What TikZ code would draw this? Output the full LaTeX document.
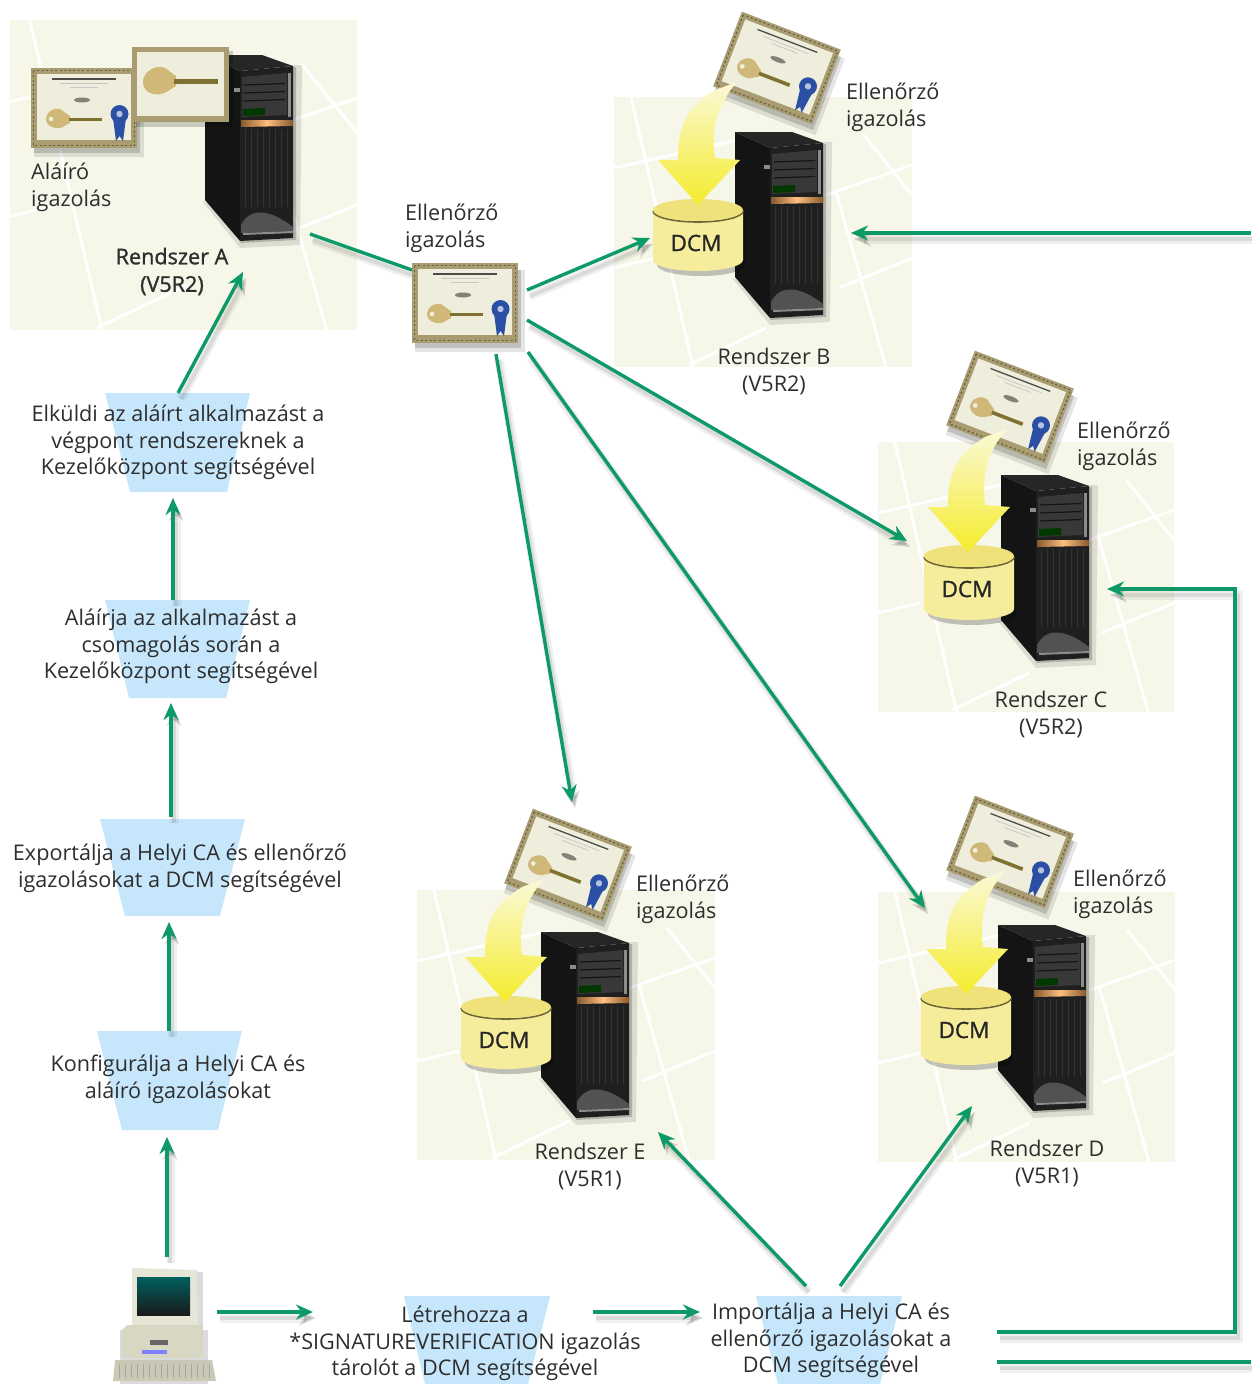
\documentclass[tikz,border=0pt]{standalone}
\usepackage{fontspec}
\setmainfont{Open Sans}
\newfontfamily\heavyface[FakeBold=1.2]{Open Sans}
\usetikzlibrary{arrows.meta,calc}
\definecolor{grn}{HTML}{0E9A68}
\definecolor{cream}{HTML}{F6F7E8}
\definecolor{trap}{HTML}{C6E7FB}
\definecolor{txt}{HTML}{2E2E2E}
\definecolor{cframe}{HTML}{A89C70}
\definecolor{cpaper}{HTML}{EFEDDC}
\definecolor{khead}{HTML}{CFB878}
\definecolor{kshaft}{HTML}{7F7230}
\definecolor{ribbon}{HTML}{2B4FA5}
\definecolor{cyl}{HTML}{F5EC9C}
\definecolor{cyltop}{HTML}{EFE27A}
\definecolor{pcbeige}{HTML}{E6E5D6}
\definecolor{pcbase}{HTML}{D8D7C4}
\definecolor{pckeys}{HTML}{C9C9B6}
\definecolor{yhead}{HTML}{F4EC2C}
\definecolor{ytail}{HTML}{FBF9D8}
\tikzset{
  conn/.style={draw=grn,line width=3.4pt,line join=miter,
    preaction={draw=black,opacity=.06,line width=9pt,transform canvas={shift={(3pt,-6pt)}}},
    preaction={draw=black,opacity=.09,line width=4pt,transform canvas={shift={(3pt,-6pt)}}}},
  tipped/.style={conn,-{Stealth[length=17pt,width=15pt]}},
  lbl/.style={font=\fontsize{21.6}{26.4}\selectfont,text=txt,align=center,inner sep=0pt,yshift=-1.5pt},
  lbll/.style={lbl,align=left,anchor=west},
  bolbl/.style={lbl,font=\fontsize{21.6}{27.5}\selectfont\heavyface},
  street/.style={draw=white,line width=3pt},
  dcmlbl/.style={font=\fontsize{22.5}{28}\selectfont\heavyface,text=black!85,inner sep=0pt},
  trapfill/.style={fill=trap,draw=none}
}
% panel with street pattern: x y w h
\newcommand{\panelbg}[4]{%
  \begin{scope}[shift={(#1,#2)},xscale=#3/298,yscale=#4/270]
    \fill[cream] (0,0) rectangle (298,270);
    \begin{scope}
      \clip (0,0) rectangle (298,270);
      \draw[street] (17,0) -- (79,270);
      \draw[street] (0,71) -- (132,41);
      \draw[street] (0,171) -- (42,161);
      \draw[street] (212,98) -- (298,68);
      \draw[street] (250,38) -- (298,98);
      \draw[street] (225,191) -- (298,161);
      \draw[street] (222,95) -- (272,270);
      \draw[street] (75,268) -- (152,231);
    \end{scope}
  \end{scope}}
% server tower, origin at top-left
\newcommand{\tower}[2]{%
  \begin{scope}[shift={(#1,#2)}]
    \fill[black,opacity=.10] (-3,146) -- (35,193) -- (95,190) -- (97,10) -- (88,10) -- (88,183) -- cycle;
    \fill[black,opacity=.20] (35,188) -- (91,185) -- (91,12) -- (88,12) -- cycle;
    \fill[black!85!white] (0,0) -- (57,0) -- (88,11) -- (35,16) -- cycle;
    \fill[black!92!white] (0,0) -- (35,16) -- (35,186) -- (0,145) -- cycle;
    \fill[black!88!white] (35,16) -- (88,11) -- (88,183) -- (35,186) -- cycle;
    \fill[black!78!white] (37,22) -- (82,18) -- (82,60) -- (37,62) -- cycle;
    \foreach \yy in {30,38,46}{\draw[black!92!white,line width=1.2pt] (39,\yy) -- (80,\yy-1.5);}
    \fill[black!45!white] (83,18) -- (86,18) -- (86,62) -- (83,62) -- cycle;
    \fill[green!22!black] (38,54) -- (60,53) -- (60,60) -- (38,61) -- cycle;
    \fill[black!45!white] (29,33) rectangle (35,37);
    \shade[left color=brown!70!black,right color=brown!70!black,middle color=orange!50!white] (36,65) -- (88,65) -- (88,71) -- (36,72) -- cycle;
    \foreach \xx in {40,46,...,86}{\draw[black!80!white,line width=.8pt] (\xx,74) -- (\xx,152);}
    \fill[black!68!white] (36,170) .. controls (45,152) and (65,154) .. (88,172) -- (88,176) -- (36,178) -- cycle;
    \fill[black!45!white] (38,178) -- (88,176) -- (88,178) -- (38,180) -- cycle;
  \end{scope}}
% certificate centred, rotation (deg, clockwise positive)
\newcommand{\certif}[3]{%
  \begin{scope}[shift={(#1,#2)},rotate=-#3]
    \fill[black,opacity=.10] (-50,-33) rectangle (60,49);
    \fill[black,opacity=.16] (-50,-33) rectangle (56,45);
    \fill[cframe] (-53,-40) rectangle (53,40);
    \draw[black!40!cframe,line width=1.2pt,dash pattern=on 2pt off 2.5pt] (-50.5,-37.5) rectangle (50.5,37.5);
    \fill[cpaper] (-47,-34) rectangle (47,32);
    \draw[black!70!white,line width=1.3pt] (-32,-29) -- (32,-29);
    \draw[black!22!white,line width=.8pt] (-24,-24.5) -- (24,-24.5);
    \draw[black!22!white,line width=.8pt] (-14,-21) -- (14,-21);
    \fill[black!45!cpaper] (-2,-8) ellipse[x radius=8,y radius=2.5];
    \fill[khead,even odd rule] (-38,11) .. controls (-38,4) and (-30,-1) .. (-24,1) -- (-17,6) -- (-14,8) -- (-14,15) -- (-18,17)
       .. controls (-24,23) and (-38,20) .. (-38,11) -- cycle (-33,11) circle (2.5);
    \draw[kshaft,line width=3.6pt] (-15,11.5) -- (18,11.5);
    \fill[ribbon] (29,10) -- (42,10) -- (39,33) -- (35.5,28) -- (32,33) -- cycle;
    \fill[ribbon] (35.5,6) circle (9);
    \fill[ribbon!35!white] (35.5,6) circle (3.2);
  \end{scope}}
% DCM drum: centre x, top ellipse centre y, bottom y, name
\newcommand{\drum}[4]{%
  \fill[black,opacity=.22] ({#1-41},{#2+8}) -- ({#1-41},{#3+5}) arc[start angle=180,end angle=0,x radius=44,y radius=11] -- ({#1+47},{#2+8}) -- cycle;
  \fill[cyl] ({#1-45},#2) -- ({#1-45},#3) arc[start angle=180,end angle=0,x radius=45,y radius=11] -- ({#1+45},#2) -- cycle;
  \draw[black!55!cyltop,line width=1.6pt] ({#1-45},{#2+1}) arc[start angle=180,end angle=0,x radius=45,y radius=11];
  \fill[cyltop] (#1,#2) ellipse[x radius=45,y radius=11];
  \node[dcmlbl] (#4) at ({#1-2},{#2+33}) {DCM};}
% yellow arrow with tip at x y
\newcommand{\yarrow}[2]{%
  \begin{scope}[shift={(#1,#2)}]
    \shade[top color=ytail,bottom color=yhead,shading angle=0]
      (39,-123) -- (17,-115) .. controls (-2,-103) and (-21,-88) .. (-20,-45)
      -- (-40,-45) -- (0,0) -- (42,-45) -- (17,-47)
      .. controls (14,-70) and (15,-95) .. (39,-123) -- cycle;
  \end{scope}}
\begin{document}
\begin{tikzpicture}[x=1pt,y=-1pt]
\useasboundingbox (0,0) rectangle (1251,1384);
\fill[white] (0,0) rectangle (1251,1384);
% panels
\panelbg{10}{20}{347}{310}
\panelbg{614}{97}{298}{270}
\panelbg{878}{442}{296}{270}
\panelbg{878}{892}{297}{270}
\panelbg{417}{890}{298}{270}
% trapezoids
\fill[trapfill] (105,393) -- (250,393) -- (227,492) -- (130,492) -- cycle;
\fill[trapfill] (105,600) -- (250,600) -- (226,698) -- (129,698) -- cycle;
\fill[trapfill] (100,819) -- (245,819) -- (220,916) -- (125,916) -- cycle;
\fill[trapfill] (97,1031) -- (242,1031) -- (218,1130) -- (122,1130) -- cycle;
\fill[trapfill] (404,1296) -- (550,1296) -- (528,1384) -- (425,1384) -- cycle;
\fill[trapfill] (756,1296) -- (902,1296) -- (880,1384) -- (778,1384) -- cycle;
% servers
\tower{205}{55}
\tower{735}{132}
\tower{1001}{475}
\tower{998}{925}
\tower{541}{932}
% system A certificates
\certif{84}{108}{0}
\fill[black,opacity=.18] (136,51) rectangle (233,127);
\fill[cframe] (132,47) rectangle (229,122);
\fill[cpaper] (137,52) rectangle (224,116);
\fill[khead] (143,82) .. controls (143,72) and (155,64) .. (165,68) -- (176,76) -- (176,86) -- (168,91) .. controls (158,98) and (143,94) .. (143,82) -- cycle;
\draw[kshaft,line width=5pt] (174,81) -- (218,81);
% rotated certificates, drums, arrows
\certif{777}{68}{21}
\drum{698}{210}{260}{dcmB}
\yarrow{698}{205}
\certif{1010}{407}{21}
\drum{969}{556}{609}{dcmC}
\yarrow{968}{552}
\certif{1010}{852}{21}
\drum{966}{997}{1054}{dcmD}
\yarrow{966}{994}
\certif{568}{865}{21}
\drum{506}{1007}{1058}{dcmE}
\yarrow{505}{1002}
% computer
\fill[black,opacity=.14] (136,1272) rectangle (203,1332);
\fill[black,opacity=.14] (120,1330) rectangle (208,1384);
\fill[pcbeige] (132,1268) -- (197,1270) -- (198,1330) -- (132,1330) -- cycle;
\shade[top color=teal!75!black,bottom color=black!90] (137,1277) rectangle (190,1315);
\fill[pcbase] (122,1330) -- (127,1325) -- (203,1325) -- (203,1358) -- (122,1358) -- cycle;
\fill[black!60!white] (150,1340) rectangle (168,1345);
\fill[blue!50!white] (142,1350) rectangle (167,1354);
\fill[pckeys] (115,1360) -- (212,1360) -- (216,1381) -- (113,1381) -- cycle;
\foreach \kx in {119,125,...,209}{\draw[black!35!white,line width=.9pt] (\kx,1364) -- (\kx,1378);}
% connector end points
\coordinate (aOut) at (310,234);
\coordinate (certIn) at (412,270);
\coordinate (certB) at (527,290);
\coordinate (toB) at (650,238);
\coordinate (certC) at (527,320);
\coordinate (toC) at (907,541);
\coordinate (certD) at (528,352);
\coordinate (toD) at (925,908);
\coordinate (certE) at (496,354);
\coordinate (toE) at (572,802);
\coordinate (elkFrom) at (178,393);
\coordinate (toA) at (243,272);
\coordinate (alaFrom) at (173,600);
\coordinate (toElk) at (173,498);
\coordinate (expFrom) at (171,817);
\coordinate (toAla) at (171,703);
\coordinate (konFrom) at (169,1031);
\coordinate (toExp) at (169,922);
\coordinate (pcUp) at (167,1257);
\coordinate (toKon) at (167,1137);
\coordinate (pcRight) at (217,1312);
\coordinate (toLet) at (313,1312);
\coordinate (letOut) at (593,1312);
\coordinate (toImp) at (700,1312);
\coordinate (impE) at (806,1286);
\coordinate (toSysE) at (658,1132);
\coordinate (impD) at (840,1286);
\coordinate (toSysD) at (972,1106);
\coordinate (impC) at (997,1332);
\coordinate (cornerC) at (1235,1332);
\coordinate (cornerC2) at (1235,589);
\coordinate (toSysC) at (1107,589);
\coordinate (impB) at (997,1362);
\coordinate (edgeB) at (1251,1362);
\coordinate (edgeB2) at (1251,233);
\coordinate (toSysB) at (851,233);
% connectors
\draw[conn] (aOut) -- (certIn);
\certif{465}{303}{0}
\draw[tipped] (certB) -- (toB);
\draw[tipped] (certC) -- (toC);
\draw[tipped] (certD) -- (toD);
\draw[tipped] (certE) -- (toE);
\draw[tipped] (elkFrom) -- (toA);
\draw[tipped] (alaFrom) -- (toElk);
\draw[tipped] (expFrom) -- (toAla);
\draw[tipped] (konFrom) -- (toExp);
\draw[tipped] (pcUp) -- (toKon);
\draw[tipped] (pcRight) -- (toLet);
\draw[tipped] (letOut) -- (toImp);
\draw[tipped] (impE) -- (toSysE);
\draw[tipped] (impD) -- (toSysD);
\draw[tipped] (impC) -- (cornerC) -- (cornerC2) -- (toSysC);
\draw[conn] (impB) -- (edgeB);
\draw[tipped] (edgeB2) -- (toSysB);
% labels
\node[lbll] (alairo) at (31,186) {Aláíró\\igazolás};
\node[bolbl] (rsA) at (172,270) {Rendszer A\\(V5R2)};
\node[lbll] (ellM) at (405,227) {Ellenőrző\\igazolás};
\node[lbll] (ellB) at (846,106) {Ellenőrző\\igazolás};
\node[lbll] (ellC) at (1077,445) {Ellenőrző\\igazolás};
\node[lbll] (ellD) at (1073,893) {Ellenőrző\\igazolás};
\node[lbll] (ellE) at (636,898) {Ellenőrző\\igazolás};
\node[lbl] (rsB) at (774,370) {Rendszer B\\(V5R2)};
\node[lbl] (rsC) at (1051,713) {Rendszer C\\(V5R2)};
\node[lbl] (rsD) at (1047,1162) {Rendszer D\\(V5R1)};
\node[lbl] (rsE) at (590,1165) {Rendszer E\\(V5R1)};
\node[lbl] (elk) at (178,441) {Elküldi az aláírt alkalmazást a\\végpont rendszereknek a\\Kezelőközpont segítségével};
\node[lbl] (ala) at (181,645) {Aláírja az alkalmazást a\\csomagolás során a\\Kezelőközpont segítségével};
\node[lbl] (exp) at (180,867) {Exportálja a Helyi CA és ellenőrző\\igazolásokat a DCM segítségével};
\node[lbl] (kon) at (178,1078) {Konfigurálja a Helyi CA és\\aláíró igazolásokat};
\node[lbl] (let) at (465,1342) {Létrehozza a\\*SIGNATUREVERIFICATION igazolás\\tárolót a DCM segítségével};
\node[lbl] (imp) at (831,1339) {Importálja a Helyi CA és\\ellenőrző igazolásokat a\\DCM segítségével};
\end{tikzpicture}
\end{document}
